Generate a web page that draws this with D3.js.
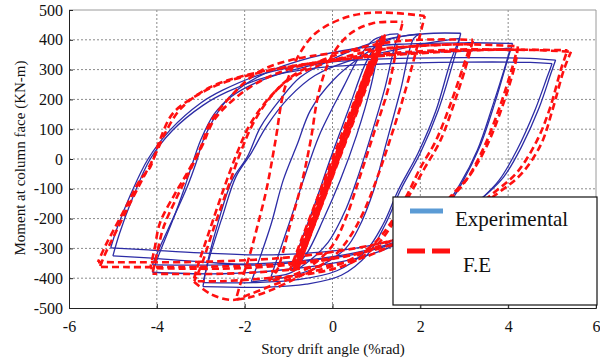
<!DOCTYPE html>
<html>
<head>
<meta charset="utf-8">
<script src="https://cdn.jsdelivr.net/npm/d3@7"></script>
<style>
  html, body { margin: 0; padding: 0; background: #fff; }
  svg { display: block; }
</style>
</head>
<body>
<svg id="chart" width="600" height="362"></svg>
<script>
// ticks
const xTicks = [-6, -4, -2, 0, 2, 4, 6];
const yTicks = [-500, -400, -300, -200, -100, 0, 100, 200, 300, 400, 500];

// Experimental loops: [drift %rad, moment kN-m], each branch drawn on its own
const exp1Down = [[1.1,410],[0.87,242],[0.55,80],[0.18,-70],[-0.2,-200],[-0.6,-320],[-0.95,-375]];
const exp1Up = [[-0.95,-375],[-0.75,-290],[-0.4,-150],[-0.05,0],[0.35,160],[0.75,320],[1.1,410]];
const exp15Down = [[1.5,420],[1.4,370],[1.2,242],[0.9,90],[0.6,-50],[0.3,-170],[-0.1,-280],[-0.6,-350],[-1.0,-385],[-1.4,-395]];
const exp15Up = [[-1.4,-395],[-1.25,-330],[-0.95,-200],[-0.66,-70],[-0.3,80],[0.25,242],[0.6,340],[0.94,400],[1.3,418],[1.5,420]];
const exp2Down = [[2.0,420],[1.85,405],[1.55,231],[1.2,40],[0.94,-104],[0.6,-230],[0.3,-300],[-0.3,-360],[-1.0,-395],[-1.85,-412]];
const exp2Up = [[-1.85,-412],[-1.65,-330],[-1.4,-220],[-1.12,-70],[-0.8,50],[-0.5,164],[0.02,265],[0.64,342],[1.26,399],[1.7,415],[2.0,420]];
const exp3aDown = [[2.92,422],[2.85,380],[2.76,332],[2.4,160],[2.0,20],[1.55,-104],[1.2,-220],[0.8,-320],[0.2,-390],[-0.6,-420],[-1.5,-430],[-2.95,-428]];
const exp3aUp = [[-2.95,-428],[-2.85,-350],[-2.6,-210],[-2.28,-70],[-1.94,7],[-1.64,107],[-1.19,200],[-0.73,275],[0.0,335],[0.8,385],[1.6,412],[2.3,422],[2.92,422]];
const exp3bDown = [[2.9,405],[2.7,332],[2.35,160],[1.95,20],[1.5,-104],[1.15,-220],[0.75,-310],[0.1,-375],[-0.8,-405],[-1.8,-415],[-2.95,-415]];
const exp3bUp = [[-2.95,-415],[-2.8,-330],[-2.5,-190],[-2.2,-60],[-1.85,20],[-1.5,110],[-1.0,205],[-0.4,280],[0.4,330],[1.4,365],[2.2,390],[2.9,405]];
const exp4aDown = [[4.1,388],[4.0,340],[3.7,190],[3.35,40],[2.95,-80],[2.6,-160],[2.0,-235],[1.4,-280],[0.5,-315],[-1.0,-345],[-2.5,-355],[-4.1,-355]];
const exp4aUp = [[-4.1,-355],[-3.93,-295],[-3.6,-190],[-3.31,-94],[-3.1,-10],[-2.95,60],[-2.6,160],[-2.26,221],[-1.5,290],[-0.5,340],[0.5,370],[1.5,385],[3.0,390],[4.1,388]];
const exp4bDown = [[4.05,372],[3.95,320],[3.65,180],[3.3,30],[2.9,-85],[2.5,-170],[1.9,-240],[1.4,-290],[0.5,-335],[-1.0,-370],[-2.5,-385],[-4.1,-380]];
const exp4bUp = [[-4.1,-380],[-3.95,-320],[-3.65,-210],[-3.4,-110],[-3.2,-20],[-3.0,64],[-2.7,150],[-2.3,210],[-1.6,265],[-0.6,310],[0.5,340],[1.5,355],[3.0,362],[4.05,372]];
const exp5aDown = [[5.08,332],[4.98,290],[4.7,170],[4.3,40],[3.9,-60],[3.54,-114],[3.0,-180],[2.2,-240],[1.4,-272],[0.5,-300],[-0.5,-315],[-1.6,-322],[-3.0,-315],[-4.2,-305],[-5.05,-298]];
const exp5aUp = [[-5.05,-298],[-4.9,-230],[-4.6,-120],[-4.2,0],[-3.7,97],[-3.0,188],[-2.5,231],[-1.6,285],[-0.5,318],[1.0,335],[3.0,340],[4.5,338],[5.08,332]];
const exp5bDown = [[5.0,320],[4.9,280],[4.6,160],[4.2,30],[3.8,-70],[3.45,-125],[2.9,-195],[2.1,-255],[1.4,-285],[0.5,-320],[-0.5,-340],[-1.6,-356],[-3.0,-345],[-4.2,-332],[-5.0,-325]];
const exp5bUp = [[-5.0,-325],[-4.85,-250],[-4.55,-130],[-4.15,0],[-3.65,95],[-2.95,180],[-2.4,225],[-1.5,275],[-0.4,305],[1.0,318],[3.0,325],[4.5,324],[5.0,320]];

// F.E loops (small elastic cycles overlap into a thick band)
const fe05aDown = [[1.18,410],[-0.85,-372]];
const fe05aUp = [[-0.97,-372],[1.06,410]];
const fe05bDown = [[1.12,400],[-0.82,-360]];
const fe05bUp = [[-0.93,-368],[1.1,404]];
const fe05cDown = [[1.2,418],[-0.78,-365]];
const fe05cUp = [[-0.9,-378],[1.14,414]];
const fe05dDown = [[1.0,360],[-0.72,-340]];
const fe05dUp = [[-0.8,-345],[0.95,355]];
const fe05eDown = [[1.16,405],[-0.88,-370]];
const fe05eUp = [[-0.95,-375],[1.08,398]];
const fe05fDown = [[1.22,415],[-0.8,-372]];
const fe05fUp = [[-0.86,-374],[1.15,412]];
const fe05gDown = [[0.85,320],[-0.65,-310]];
const fe05gUp = [[-0.7,-315],[0.82,318]];
const fe15Down = [[1.6,460],[1.5,400],[1.26,231],[0.95,90],[0.6,-70],[0.3,-200],[0.0,-290],[-0.5,-360],[-1.0,-395],[-1.45,-410]];
const fe15Up = [[-1.45,-410],[-1.26,-372],[-1.0,-240],[-0.7,-80],[-0.5,60],[-0.3,231],[0.0,350],[0.4,420],[0.9,455],[1.6,460]];
const fe2Down = [[2.1,480],[2.0,420],[1.85,332],[1.6,200],[1.3,60],[1.0,-70],[0.7,-180],[0.4,-260],[0.0,-330],[-0.7,-390],[-1.4,-440],[-1.9,-465],[-2.2,-472]];
const fe2Up = [[-2.2,-472],[-2.1,-420],[-1.9,-330],[-1.7,-220],[-1.5,-100],[-1.3,60],[-1.1,231],[-0.8,340],[-0.4,420],[0.2,470],[0.8,490],[1.4,490],[2.1,480]];
const fe3aDown = [[3.2,400],[3.08,332],[2.8,200],[2.45,60],[2.1,-30],[1.78,-114],[1.4,-210],[1.0,-290],[0.4,-350],[-0.5,-385],[-1.5,-400],[-2.5,-410],[-3.15,-410]];
const fe3aUp = [[-3.15,-410],[-3.0,-362],[-2.7,-230],[-2.4,-104],[-2.1,20],[-1.8,121],[-1.4,210],[-0.9,280],[0.0,345],[1.0,385],[2.0,400],[3.2,400]];
const fe3bDown = [[3.15,385],[3.0,320],[2.7,190],[2.35,60],[2.0,-30],[1.7,-120],[1.3,-220],[0.9,-290],[0.3,-345],[-0.5,-380],[-1.3,-420],[-1.9,-455],[-2.26,-473],[-2.75,-455],[-3.17,-410]];
const fe3bUp = [[-3.17,-410],[-3.05,-350],[-2.8,-240],[-2.5,-110],[-2.2,10],[-1.9,110],[-1.5,195],[-1.0,265],[-0.2,320],[0.8,360],[2.0,380],[3.15,385]];
const fe4aDown = [[4.22,378],[4.18,332],[3.9,190],[3.5,40],[3.1,-60],[2.76,-114],[2.2,-200],[1.4,-270],[0.5,-320],[-1.0,-355],[-2.5,-368],[-4.15,-366]];
const fe4aUp = [[-4.15,-366],[-4.05,-300],[-3.93,-215],[-3.6,-120],[-3.31,-47],[-3.0,40],[-2.79,121],[-2.33,208],[-1.71,290],[-1.0,330],[0.0,355],[1.5,375],[3.0,385],[4.22,378]];
const fe4bDown = [[4.2,365],[4.1,310],[3.82,180],[3.45,40],[3.05,-70],[2.7,-130],[2.1,-215],[1.4,-285],[0.5,-340],[-1.0,-372],[-2.5,-385],[-4.1,-385]];
const fe4bUp = [[-4.1,-385],[-4.0,-320],[-3.85,-230],[-3.55,-130],[-3.25,-40],[-2.95,50],[-2.7,130],[-2.25,200],[-1.6,265],[-0.8,310],[0.3,340],[1.8,360],[3.2,368],[4.2,365]];
const fe5aDown = [[5.43,360],[5.27,300],[5.0,160],[4.75,50],[4.3,-50],[3.77,-114],[3.0,-190],[2.0,-245],[1.4,-272],[0.5,-300],[-1.0,-330],[-3.0,-345],[-5.34,-346]];
const fe5aUp = [[-5.34,-346],[-5.2,-300],[-5.07,-262],[-4.7,-160],[-4.38,-70],[-4.15,-27],[-3.93,64],[-3.63,154],[-3.0,221],[-2.5,255],[-1.5,295],[0.0,330],[1.5,352],[3.0,365],[4.5,366],[5.43,360]];
const fe5bDown = [[5.35,365],[5.2,300],[4.95,170],[4.65,60],[4.2,-45],[3.7,-110],[2.9,-195],[1.9,-255],[1.4,-285],[0.5,-320],[-1.0,-350],[-3.0,-362],[-5.3,-362]];
const fe5bUp = [[-5.3,-362],[-5.15,-310],[-5.0,-265],[-4.65,-160],[-4.3,-60],[-4.05,10],[-3.8,90],[-3.45,170],[-2.8,240],[-2.0,280],[-1.0,310],[0.5,338],[2.0,355],[3.5,366],[5.35,365]];

const expBranches = [exp1Down, exp1Up, exp15Down, exp15Up, exp2Down, exp2Up,
  exp3aDown, exp3aUp, exp3bDown, exp3bUp, exp4aDown, exp4aUp, exp4bDown, exp4bUp,
  exp5aDown, exp5aUp, exp5bDown, exp5bUp];
const feBranches = [fe05aDown, fe05aUp, fe05bDown, fe05bUp, fe05cDown, fe05cUp,
  fe05dDown, fe05dUp, fe05eDown, fe05eUp, fe05fDown, fe05fUp, fe05gDown, fe05gUp,
  fe15Down, fe15Up, fe2Down, fe2Up,
  fe3aDown, fe3aUp, fe3bDown, fe3bUp, fe4aDown, fe4aUp, fe4bDown, fe4bUp,
  fe5aDown, fe5aUp, fe5bDown, fe5bUp];

const legendLabels = ['Experimental', 'F.E'];

const svg = d3.select('#chart');
const L = 69, R = 596, T = 10, B = 308;
const FONT = '"Liberation Serif", "Times New Roman", serif';

const x = d3.scaleLinear().domain([-6, 6]).range([L, R]);
const y = d3.scaleLinear().domain([-500, 500]).range([B, T]);

// grid
const grid = svg.append('g');
grid.selectAll('.gx').data(xTicks.slice(1, -1)).join('line')
  .attr('x1', d => x(d)).attr('x2', d => x(d))
  .attr('y1', T).attr('y2', B)
  .attr('stroke', '#8a8a8a').attr('stroke-width', 1).attr('stroke-dasharray', '2,2');
grid.selectAll('.gy').data(yTicks.slice(1, -1)).join('line')
  .attr('x1', L).attr('x2', R)
  .attr('y1', d => y(d)).attr('y2', d => y(d))
  .attr('stroke', '#8a8a8a').attr('stroke-width', 1).attr('stroke-dasharray', '2,2');

svg.append('clipPath').attr('id', 'clip')
  .append('rect').attr('x', L).attr('y', T).attr('width', R - L).attr('height', B - T);

const line = d3.line().x(d => x(d[0])).y(d => y(d[1])).curve(d3.curveCatmullRom.alpha(0.5));

const plot = svg.append('g').attr('clip-path', 'url(#clip)');
plot.selectAll('.exp').data(expBranches).join('path')
  .attr('d', line).attr('fill', 'none')
  .attr('stroke', '#2c2ca6').attr('stroke-width', 1.3);
plot.selectAll('.fe').data(feBranches).join('path')
  .attr('d', line).attr('fill', 'none')
  .attr('stroke', '#ff1010').attr('stroke-width', 2.6).attr('stroke-dasharray', '7,4')
  .attr('stroke-dashoffset', (d, i) => (i * 3) % 11);

// frame
svg.append('line').attr('x1', L).attr('x2', R).attr('y1', T).attr('y2', T).attr('stroke', '#9a9a9a');
svg.append('line').attr('x1', R).attr('x2', R).attr('y1', T).attr('y2', B).attr('stroke', '#9a9a9a');

const signed = d => d < 0 ? '-' + Math.abs(d) : d;

svg.append('g').attr('transform', `translate(0,${B})`)
  .call(d3.axisBottom(x).tickValues(xTicks).tickSize(-4).tickPadding(13))
  .call(ax => ax.attr('font-family', FONT))
  .call(ax => ax.select('.domain').attr('stroke', '#222'))
  .call(ax => ax.selectAll('line').attr('stroke', '#222'))
  .call(ax => ax.selectAll('text').attr('fill', '#111').attr('font-size', 16).attr('font-family', FONT).text(signed));

svg.append('g').attr('transform', `translate(${L},0)`)
  .call(d3.axisLeft(y).tickValues(yTicks).tickSize(-4).tickPadding(6))
  .call(ax => ax.attr('font-family', FONT))
  .call(ax => ax.select('.domain').attr('stroke', '#222'))
  .call(ax => ax.selectAll('line').attr('stroke', '#222'))
  .call(ax => ax.selectAll('text').attr('fill', '#111').attr('font-size', 16).attr('font-family', FONT).text(signed));

// axis titles
svg.append('text').attr('x', 333).attr('y', 354).attr('text-anchor', 'middle')
  .attr('font-family', FONT).attr('font-size', 15).attr('fill', '#111')
  .text('Story drift angle (%rad)');
svg.append('text').attr('transform', 'translate(25,158) rotate(-90)').attr('text-anchor', 'middle')
  .attr('font-family', FONT).attr('font-size', 15).attr('fill', '#111')
  .text('Moment at column face (KN-m)');

// legend
const lg = svg.append('g');
lg.append('rect').attr('x', 393).attr('y', 197).attr('width', 204).attr('height', 108)
  .attr('fill', '#fff').attr('stroke', '#111').attr('stroke-width', 1.2);
lg.append('line').attr('x1', 410).attr('x2', 443).attr('y1', 211).attr('y2', 211)
  .attr('stroke', '#5b9bd5').attr('stroke-width', 5);
lg.append('line').attr('x1', 407).attr('x2', 450).attr('y1', 251).attr('y2', 251)
  .attr('stroke', '#ff1010').attr('stroke-width', 5).attr('stroke-dasharray', '18,7');
lg.append('text').attr('x', 455).attr('y', 226).attr('font-family', FONT).attr('font-size', 21)
  .attr('fill', '#111').text(legendLabels[0]);
lg.append('text').attr('x', 463).attr('y', 272).attr('font-family', FONT).attr('font-size', 21)
  .attr('fill', '#111').text(legendLabels[1]);
</script>
</body>
</html>
